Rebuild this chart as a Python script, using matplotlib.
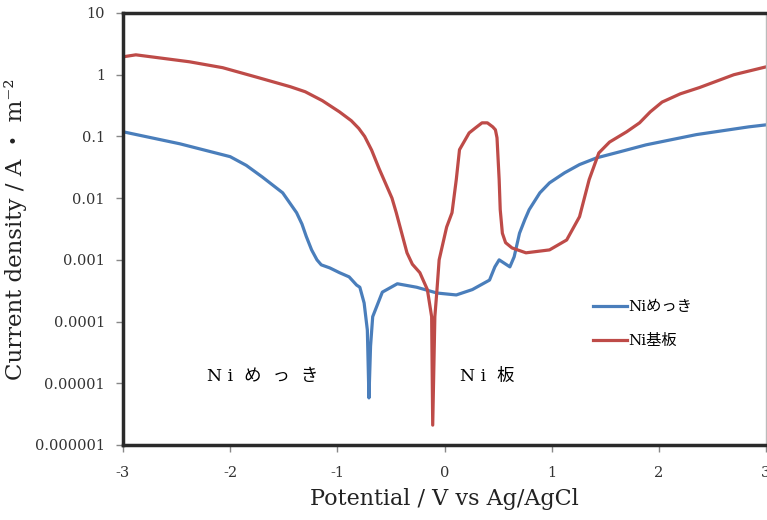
import numpy as np
import matplotlib
matplotlib.use("Agg")
import matplotlib.pyplot as plt

plt.rcParams['font.family'] = ['DejaVu Serif', 'Noto Sans CJK JP']

# potential (V vs Ag/AgCl) and current density (A/m2)
plating_v = [-3.0, -2.47, -2.0, -1.85, -1.70, -1.51, -1.38, -1.33, -1.29, -1.24,
             -1.19, -1.15, -1.07, -0.98, -0.89, -0.82, -0.79, -0.75, -0.72, -0.705,
             -0.69, -0.67, -0.58, -0.44, -0.26, -0.07, 0.11, 0.26, 0.42, 0.47,
             0.51, 0.61, 0.65, 0.70, 0.75, 0.79, 0.89, 0.98, 1.12, 1.26,
             1.42, 1.63, 1.88, 2.35, 2.84, 3.0]
plating_i = [0.119, 0.076, 0.047, 0.034, 0.022, 0.0122, 0.0058, 0.0038, 0.0024, 0.00145,
             0.001, 0.00083, 0.00074, 0.00062, 0.00053, 0.00039, 0.00036, 0.00020, 7.3e-5, 5.8e-6,
             4.0e-5, 0.00012, 0.00030, 0.00041, 0.00036, 0.00029, 0.00027, 0.00033, 0.00047, 0.00077,
             0.001, 0.00077, 0.00112, 0.0027, 0.0045, 0.0065, 0.0122, 0.0177, 0.0257, 0.035,
             0.045, 0.056, 0.073, 0.107, 0.143, 0.154]

plate_v = [-3.0, -2.88, -2.38, -2.07, -1.76, -1.44, -1.30, -1.14, -0.98, -0.87,
           -0.80, -0.745, -0.68, -0.61, -0.49, -0.45, -0.35, -0.30, -0.23, -0.16,
           -0.12, -0.11, -0.09, -0.07, -0.05, 0.02, 0.07, 0.11, 0.14, 0.23,
           0.29, 0.35, 0.40, 0.45, 0.475, 0.49, 0.51, 0.52, 0.54, 0.57,
           0.63, 0.76, 0.98, 1.14, 1.26, 1.35, 1.44, 1.54, 1.70, 1.82,
           1.92, 2.03, 2.20, 2.38, 2.70, 3.0]
plate_i = [1.95, 2.10, 1.62, 1.30, 0.92, 0.64, 0.53, 0.38, 0.25, 0.18,
           0.135, 0.10, 0.060, 0.030, 0.010, 0.0058, 0.0013, 0.00085, 0.00062, 0.00033,
           0.00012, 2.1e-6, 0.00012, 0.00033, 0.001, 0.0034, 0.0058, 0.020, 0.061, 0.114,
           0.138, 0.166, 0.166, 0.143, 0.128, 0.095, 0.020, 0.0065, 0.0027, 0.0019,
           0.00156, 0.0013, 0.00145, 0.0021, 0.0050, 0.020, 0.054, 0.081, 0.119, 0.166,
           0.25, 0.36, 0.49, 0.62, 1.0, 1.34]

x_ticks = [-3, -2, -1, 0, 1, 2, 3]
x_labels = ['-3', '-2', '-1', '0', '1', '2', '3']
y_ticks = [1e-6, 1e-5, 1e-4, 1e-3, 1e-2, 1e-1, 1, 10]
y_labels = ['0.000001', '0.00001', '0.0001', '0.001', '0.01', '0.1', '1', '10']

blue = '#4A7EBB'
red = '#BE4B48'

fig = plt.figure(figsize=(7.67, 5.2), dpi=100)
ax = fig.add_axes([123/767, 75/520, 643/767, 432/520])

ax.plot(plating_v, plating_i, color=blue, lw=2.3, label='Niめっき')
ax.plot(plate_v, plate_i, color=red, lw=2.3, label='Ni基板')

ax.set_yscale('log')
ax.set_xlim(-3, 3)
ax.set_ylim(1e-6, 10)
ax.set_xticks(x_ticks)
ax.set_xticklabels(x_labels)
ax.set_yticks(y_ticks)
ax.set_yticklabels(y_labels)
ax.minorticks_off()
ax.tick_params(direction='out', length=5, width=1, color='#888888',
               labelsize=10.5, labelcolor='#333333')
ax.tick_params(axis='x', pad=10)
ax.tick_params(axis='y', pad=8)

for side in ['left', 'bottom', 'top']:
    ax.spines[side].set_linewidth(2.5)
    ax.spines[side].set_color('#2a2a2a')
ax.spines['right'].set_linewidth(1)
ax.spines['right'].set_color('#bbbbbb')

ax.set_xlabel('Potential / V vs Ag/AgCl', fontsize=16, color='#222222', labelpad=6)
ax.set_ylabel('Current density / A ・ m⁻²', fontsize=16.5, color='#222222', labelpad=6)

ax.text(-2.22, 1.3e-5, 'N i  め  っ  き', fontsize=12.5, ha='left', va='center')
ax.text(0.14, 1.3e-5, 'N i  板', fontsize=12.5, ha='left', va='center')

ax.legend(loc='center left', bbox_to_anchor=(0.71, 0.28), frameon=False,
          fontsize=11, handlelength=2.2, handletextpad=0.1, labelspacing=1.3)

fig.savefig('out.png', dpi=100)
